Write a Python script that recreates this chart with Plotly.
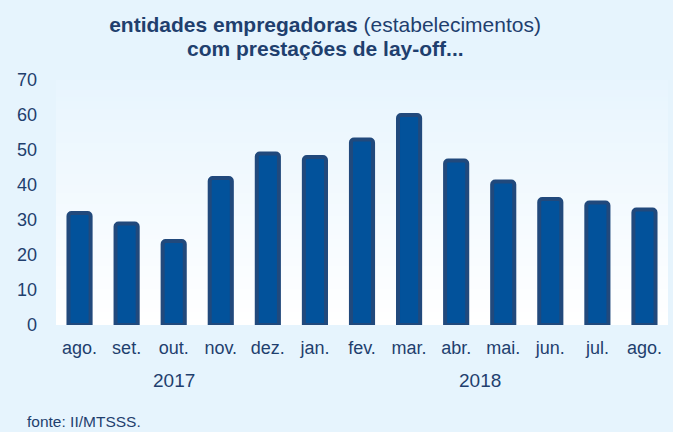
import base64, struct, zlib
import plotly.graph_objects as go

months = ["ago.", "set.", "out.", "nov.", "dez.", "jan.", "fev.", "mar.",
          "abr.", "mai.", "jun.", "jul.", "ago."]
values = [32, 29, 24, 42, 49, 48, 53, 60, 47, 41, 36, 35, 33]
years = ["2017", "2018"]
year_pos = [2, 8.5]
y_ticks = [0, 10, 20, 30, 40, 50, 60, 70]

DARK = "#1f3f6e"
BG = "#e6f4fd"


def gradient_png(top, bottom, n=64):
    rows = b""
    for i in range(n):
        t = i / (n - 1)
        c = bytes(int(round(top[k] + (bottom[k] - top[k]) * t)) for k in range(3))
        rows += b"\x00" + c
    def chunk(tag, data):
        return struct.pack(">I", len(data)) + tag + data + struct.pack(">I", zlib.crc32(tag + data) & 0xffffffff)
    png = b"\x89PNG\r\n\x1a\n"
    png += chunk(b"IHDR", struct.pack(">IIBBBBB", 1, n, 8, 2, 0, 0, 0))
    png += chunk(b"IDAT", zlib.compress(rows))
    png += chunk(b"IEND", b"")
    return "data:image/png;base64," + base64.b64encode(png).decode()


fig = go.Figure()
fig.add_trace(go.Bar(
    x=list(range(len(values))), y=values,
    marker=dict(color="#02529b", line=dict(color="#21497c", width=4), cornerradius=3),
    width=0.47,
    hoverinfo="skip",
))

annotations = [
    dict(x=xp, y=-0.228, xref="x", yref="paper", text=yr, showarrow=False,
         font=dict(size=19, color=DARK), xanchor="center", yanchor="middle")
    for xp, yr in zip(year_pos, years)
]
annotations.append(dict(x=-0.051, y=-0.392, xref="paper", yref="paper",
                        text="fonte: II/MTSSS.", showarrow=False,
                        font=dict(size=15.5, color=DARK), xanchor="left", yanchor="middle"))
annotations.append(dict(x=0.441, y=(325 - 48) / 245, xref="paper", yref="paper",
                        text="<b>com prestações de lay-off...</b>", showarrow=False,
                        font=dict(size=21, color=DARK), xanchor="center", yanchor="middle"))

fig.update_layout(
    width=673, height=432,
    margin=dict(l=56, r=5, t=80, b=107),
    paper_bgcolor=BG,
    plot_bgcolor="rgba(0,0,0,0)",
    font=dict(family="Liberation Sans, Arial, sans-serif", color=DARK),
    title=dict(
        text="<b>entidades empregadoras</b> (estabelecimentos)",
        x=0.483, xanchor="center", xref="container",
        y=1 - 25 / 432, yanchor="middle", yref="container",
        font=dict(size=21, color=DARK),
    ),
    showlegend=False,
    images=[dict(source=gradient_png((232, 245, 254), (255, 255, 255)),
                 xref="paper", yref="paper", x=0, y=1, sizex=1, sizey=1,
                 xanchor="left", yanchor="top", sizing="stretch", layer="below")],
    annotations=annotations,
)
fig.update_xaxes(
    range=[-0.5, len(values) - 0.5],
    tickmode="array", tickvals=list(range(len(months))), ticktext=months,
    tickfont=dict(size=18, color=DARK),
    showgrid=False, showline=False, zeroline=False, ticks="",
    ticklabelstandoff=10,
)
fig.update_yaxes(
    range=[0, 70], tickmode="array", tickvals=y_ticks,
    tickfont=dict(size=18, color=DARK),
    showgrid=False, showline=False, zeroline=False, ticks="",
    ticklabelstandoff=18,
)

fig.write_html("out.html", config={"displayModeBar": False},
               post_script="document.body.style.margin='0';")
